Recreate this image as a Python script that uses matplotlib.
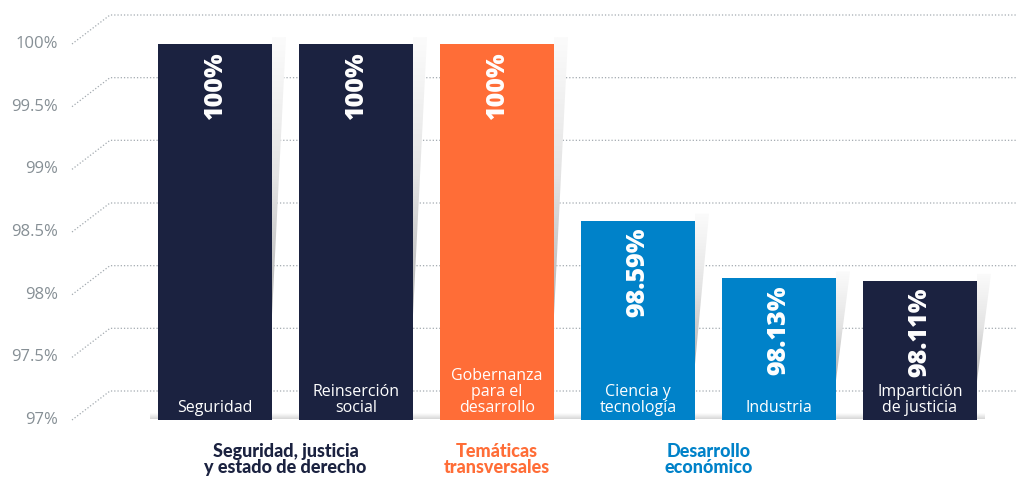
import numpy as np
import matplotlib
matplotlib.use("Agg")
import matplotlib.pyplot as plt
from matplotlib.patches import Polygon
from matplotlib.colors import LinearSegmentedColormap

# ---------------- data ----------------
categories = ["Seguridad", "Reinserción\nsocial", "Gobernanza\npara el\ndesarrollo",
              "Ciencia y\ntecnología", "Industria", "Impartición\nde justicia"]
values = [100, 100, 100, 98.59, 98.13, 98.11]
value_labels = ["100%", "100%", "100%", "98.59%", "98.13%", "98.11%"]
bar_colors = ["#1b2240", "#1b2240", "#ff6d37", "#0082c9", "#0082c9", "#1b2240"]
yticks = [97, 97.5, 98, 98.5, 99, 99.5, 100]
ytick_labels = ["97%", "97.5%", "98%", "98.5%", "99%", "99.5%", "100%"]
groups = ["Seguridad, justicia\ny estado de derecho", "Temáticas\ntransversales",
          "Desarrollo\neconómico"]
group_members = [[0, 1], [2], [3, 4]]
group_colors = ["#1b2240", "#ff6d37", "#0082c9"]

# ---------------- layout ----------------
W, H = 1016, 478
PX_X = 141.0          # px per category
X0 = 215.0            # px of first bar centre
PX_Y = 376.0 / 3.0    # px per percentage point
Y97 = 420.0           # px (from top) of 97 %

def px_x(p):   # pixel x -> data x
    return (p - X0) / PX_X

def px_y(p):   # pixel y (from top) -> data y
    return 97 + (Y97 - p) / PX_Y

FONT = "Lato"
FONT2 = "Open Sans"
fig = plt.figure(figsize=(W / 100, H / 100), dpi=100)
ax = fig.add_axes([0, 0, 1, 1])
ax.set_xlim(px_x(0), px_x(W))
ax.set_ylim(px_y(H), px_y(0))
ax.axis("off")

# ---------------- perspective grid ----------------
grid_c = "#a3aab0"
dy_back = 29 / PX_Y
for v, lab in zip(yticks, ytick_labels):
    ax.plot([px_x(72), px_x(110), px_x(W)], [v, v + dy_back, v + dy_back],
            color=grid_c, lw=0.9, ls=(0, (1, 1.6)), zorder=1)
    ax.text(px_x(58), v, lab, ha="right", va="center", fontsize=12,
            color="#868f95", family=FONT2, fontweight="normal")

# ---------------- base shadow strip ----------------
idx = np.arange(len(values))
bw = 114 / PX_X
base_cmap = LinearSegmentedColormap.from_list("b", ["#ffffff", "#d6d6d6"])
grad = np.linspace(0, 1, 50).reshape(-1, 1)
ax.imshow(grad, cmap=base_cmap, aspect="auto", origin="upper",
          extent=[idx[0] - bw / 2 - 8 / PX_X, idx[-1] + bw / 2 + 8 / PX_X,
                  97 + 0.5 / PX_Y, 97 + 6 / PX_Y], zorder=1.5)

# ---------------- bar shadows ----------------
sh_cmap = LinearSegmentedColormap.from_list("s", ["#fbfbfb", "#e4e4e4", "#b4b4b4"])
for i, v in zip(idx, values):
    right = i + bw / 2
    h = v - 97
    top = v + 7 / PX_Y
    bot = v - 0.72 * h
    wid = 14 / PX_X
    poly = Polygon([[right, top], [right + wid, top], [right, bot]], closed=True,
                   facecolor="none", edgecolor="none")
    ax.add_patch(poly)
    g = np.linspace(0, 1, 100).reshape(-1, 1)
    im = ax.imshow(g, cmap=sh_cmap, aspect="auto", origin="upper",
                   extent=[right, right + wid, bot, top], zorder=2)
    im.set_clip_path(poly)

# ---------------- bars ----------------
ax.bar(idx, [v - 97 for v in values], bottom=97, width=bw, color=bar_colors,
       zorder=3, linewidth=0)

for i, v, vl, cat in zip(idx, values, value_labels, categories):
    ax.text(i, v - 7 / PX_Y, vl, rotation=90, ha="center", va="top",
            fontsize=18, fontweight="heavy", color="white", family=FONT2, zorder=4)
    ax.text(i, 97 + 4 / PX_Y, cat, ha="center", va="bottom", fontsize=11.5,
            color="white", family=FONT2, linespacing=0.98, zorder=4)

# ---------------- group labels ----------------
for g, mem, c in zip(groups, group_members, group_colors):
    ax.text(np.mean(mem), px_y(443), g, ha="center", va="top", fontsize=13,
            fontweight="black", color=c, family=FONT, linespacing=0.95)

fig.savefig("out.png", dpi=100)
